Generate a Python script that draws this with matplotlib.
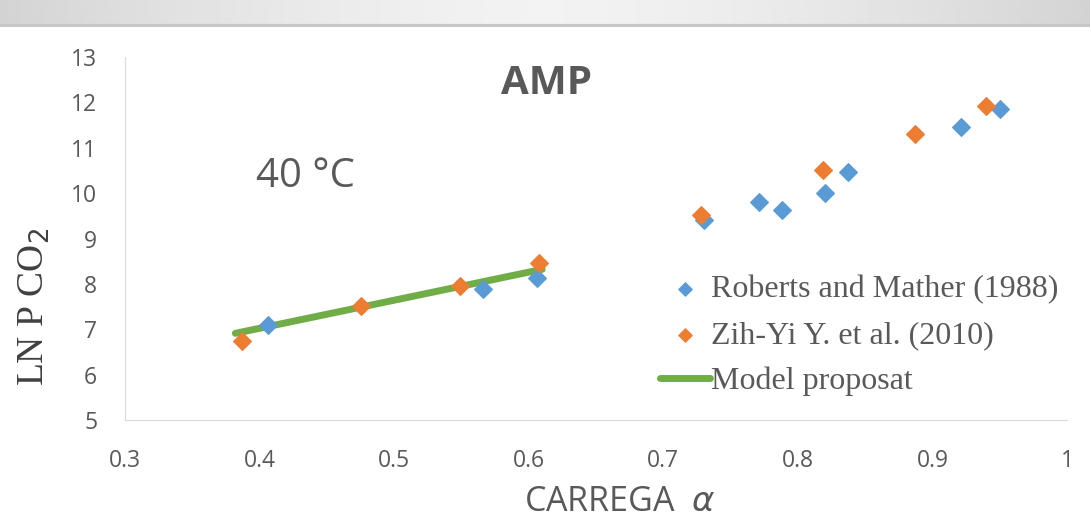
import numpy as np
import matplotlib.pyplot as plt

# Roberts and Mather (1988)
roberts_x = [0.406, 0.566, 0.606, 0.730, 0.771, 0.788, 0.820, 0.837, 0.921, 0.950]
roberts_y = [7.10, 7.89, 8.14, 9.41, 9.81, 9.63, 10.00, 10.47, 11.46, 11.85]

# Zih-Yi Y. et al. (2010)
zih_x = [0.387, 0.475, 0.549, 0.608, 0.728, 0.819, 0.887, 0.940]
zih_y = [6.75, 7.52, 7.96, 8.46, 9.52, 10.50, 11.30, 11.91]

# Model proposat
model_x = [0.382, 0.610]
model_y = [6.91, 8.32]

xticks = [0.3, 0.4, 0.5, 0.6, 0.7, 0.8, 0.9, 1]
yticks = [5, 6, 7, 8, 9, 10, 11, 12, 13]

grey = '#595959'

fig = plt.figure(figsize=(10.9, 5.2), dpi=100)

# franja gris de la diapositiva
band = fig.add_axes([0, 1 - 27 / 520, 1, 27 / 520])
g = np.linspace(-1, 1, 400)
shade = 0.95 - 0.12 * np.abs(g) ** 1.5
band.imshow(np.tile(shade, (10, 1)), cmap='gray', vmin=0, vmax=1, aspect='auto',
            extent=[0, 1, 0, 1])
band.axhline(0.03, color='#c8c8c8', lw=3)
band.axis('off')

ax = fig.add_axes([125 / 1090, 1 - 420 / 520, 942 / 1090, 363 / 520])

ax.plot(model_x, model_y, color='#70ad47', lw=5, solid_capstyle='round',
        label='Model proposat', zorder=2)
ax.scatter(roberts_x, roberts_y, marker='D', s=80, color='#5b9bd5',
           label='Roberts and Mather (1988)', zorder=3)
ax.scatter(zih_x, zih_y, marker='D', s=80, color='#ed7d31',
           label='Zih-Yi Y. et al. (2010)', zorder=3)

ax.set_xlim(0.3, 1)
ax.set_ylim(5, 13)
ax.set_xticks(xticks)
ax.set_xticklabels([str(t) for t in xticks])
ax.set_yticks(yticks)
ax.tick_params(length=0, labelsize=16.5, colors=grey)
ax.tick_params(axis='y', pad=20)
ax.tick_params(axis='x', pad=21)
for lab in ax.get_xticklabels() + ax.get_yticklabels():
    lab.set_family('Open Sans')
for s in ['top', 'right']:
    ax.spines[s].set_visible(False)
for s in ['left', 'bottom']:
    ax.spines[s].set_color('#d9d9d9')

fig.text(620 / 1090, 1 - 502 / 520, 'CARREGA  $\\alpha$', fontsize=24.5,
         color=grey, family='Open Sans', ha='center', va='center')
fig.text(34 / 1090, 1 - 307 / 520, 'LN P CO$_2$', fontsize=27, color='#404040',
         family='Liberation Serif', rotation=90, ha='center', va='center')

ax.text(0.6135, 12.42, 'AMP', fontsize=29, fontweight='bold', color=grey,
        ha='center', va='center', family='Open Sans')
ax.text(0.434, 10.36, '40 °C', fontsize=29, color=grey,
        ha='center', va='center', family='Open Sans')

handles, labels = ax.get_legend_handles_labels()
order = [1, 2, 0]
ax.legend([handles[i] for i in order], [labels[i] for i in order],
          loc='upper left', bbox_to_anchor=(660 / 1090, 1 - 275 / 520),
          bbox_transform=fig.transFigure, frameon=False,
          borderaxespad=0, borderpad=0, markerscale=0.75,
          prop={'family': 'Liberation Serif', 'size': 23},
          labelcolor=grey, handlelength=1.56, handletextpad=0.05,
          labelspacing=0.52)

fig.savefig('out.png', dpi=100)
